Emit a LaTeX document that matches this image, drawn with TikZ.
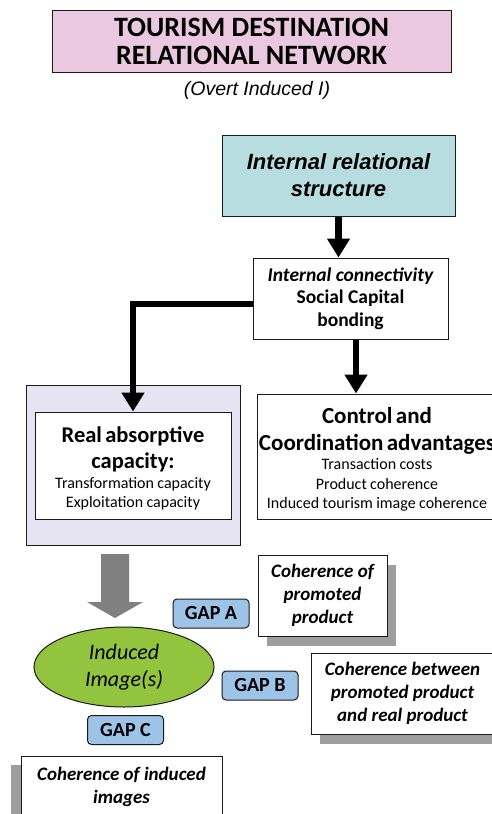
\documentclass[tikz,border=0pt]{standalone}
\usepackage{fontspec}
\setmainfont{Carlito}
\newfontfamily\arialfont{Liberation Sans}
\usetikzlibrary{arrows.meta,shapes.geometric,shadows}

\definecolor{titlepink}{HTML}{EAC9E0}
\definecolor{tealfill}{HTML}{B8DDE0}
\definecolor{lavender}{HTML}{E6E4F3}
\definecolor{imagegreen}{HTML}{92C43E}
\definecolor{gapblue}{HTML}{9DC3E6}
\definecolor{blockgray}{HTML}{808080}
\definecolor{shadowgray}{HTML}{9E9E9E}
\definecolor{edge}{HTML}{1A1A1A}

% heading lines and detail lines inside the capacity boxes
\newcommand{\bigline}{\fontsize{22.5}{26.5}\selectfont\bfseries}
\newcommand{\ctrlline}{\fontsize{23}{26.5}\selectfont\bfseries}
\newcommand{\smallline}{\fontsize{16}{19.5}\selectfont\mdseries}

\tikzset{
  frame/.style={draw=edge, line width=1pt, inner sep=0pt, align=center},
  boxtext/.style={inner sep=0pt},
  gapbox/.style={frame, fill=gapblue, rounded corners=4pt,
    minimum width=76pt, minimum height=29pt,
    font=\fontsize{20}{22}\selectfont\bfseries},
  notebox/.style={frame, fill=white,
    font=\fontsize{19}{23}\selectfont\bfseries\itshape},
  shadowright/.style={drop shadow={shadow xshift=9pt, shadow yshift=-10pt,
    fill=shadowgray, opacity=1}},
  shadowleft/.style={drop shadow={shadow xshift=-10pt, shadow yshift=-9pt,
    fill=shadowgray, opacity=1}},
  flow/.style={draw=black, line width=6.5pt, line join=miter,
    -{Triangle[width=22pt,length=19pt]}}
}

\begin{document}
\begin{tikzpicture}[x=1pt, y=-1pt]
\useasboundingbox (0,0) rectangle (492,814);
\clip (0,0) rectangle (492,814);

% heading
\node[frame, fill=titlepink, minimum width=399pt, minimum height=62pt,
      font=\fontsize{28}{28}\selectfont\bfseries] (title) at (251.5,41)
  {TOURISM DESTINATION\\RELATIONAL NETWORK};
\node[font=\arialfont\fontsize{19.5}{22}\selectfont\itshape] (subtitle) at (257,90)
  {(Overt Induced I)};

% network structure
\node[frame, fill=tealfill, minimum width=233pt, minimum height=81pt,
      font=\arialfont\fontsize{22}{27}\selectfont\bfseries\itshape] (struct) at (338.5,175.5)
  {Internal relational\\structure};

\node[frame, fill=white, minimum width=195pt, minimum height=81pt,
      font=\fontsize{19.5}{22.5}\selectfont\bfseries] (conn) at (350.5,298.5)
  {\itshape Internal connectivity\\\upshape Social Capital\\bonding};

% absorptive capacity
\node[frame, fill=lavender, minimum width=214pt, minimum height=160pt] (absouter) at (133,465.5) {};
\node[frame, fill=white, minimum width=196pt, minimum height=107pt] (absinner) at (133,465.5) {};
\node[boxtext, text width=196pt] (abstext) at (133,468.5)
  {\centering{\bigline Real absorptive\\capacity:\par}%
   {\smallline Transformation capacity\\Exploitation capacity\par}};

% control and coordination
\node[frame, fill=white, minimum width=240pt, minimum height=125pt] (ctrl) at (377,456.5) {};
\node[boxtext, text width=240pt] (ctrltext) at (377,459.5)
  {\centering{\ctrlline Control and\\\makebox[\linewidth][c]{Coordination advantages}\par}%
   {\smallline Transaction costs\\Product coherence\\Induced tourism image coherence\par}};

% connectors
\draw[flow] (struct.south) -- (struct.south |- conn.north);
\draw[flow] ([xshift=5.5pt]conn.south) -- ([xshift=5.5pt]conn.south |- ctrl.north);
\draw[flow] ([yshift=-5.5pt]conn.west) -| (absinner.north);

% block arrow towards the induced images
\fill[blockgray] (101,554) -- (129,554) -- (129,602) -- (143,602)
  -- (115,618) -- (87,602) -- (101,602) -- cycle;

% induced image
\node[ellipse, draw=edge, line width=1pt, fill=imagegreen, minimum width=180pt,
      minimum height=80pt, inner sep=0pt, align=center,
      font=\fontsize{22}{27}\selectfont\itshape] (image) at (124,667)
  {Induced\\Image(s)};

% gaps
\node[gapbox] (gapA) at (211,613.5) {GAP A};
\node[gapbox] (gapB) at (260,685.5) {GAP B};
\node[gapbox] (gapC) at (125.5,730) {GAP C};

% coherence notes
\node[notebox, shadowright, minimum width=129pt, minimum height=81pt] (promoted) at (322.5,595.5)
  {Coherence of\\promoted\\product};
\node[notebox, shadowright, minimum width=183pt, minimum height=81pt] (between) at (402.5,693.5)
  {Coherence between\\promoted product\\and real product};
\node[notebox, shadowleft, minimum width=201pt, minimum height=62pt] (images) at (121.5,787)
  {Coherence of induced\\images};
\end{tikzpicture}
\end{document}
